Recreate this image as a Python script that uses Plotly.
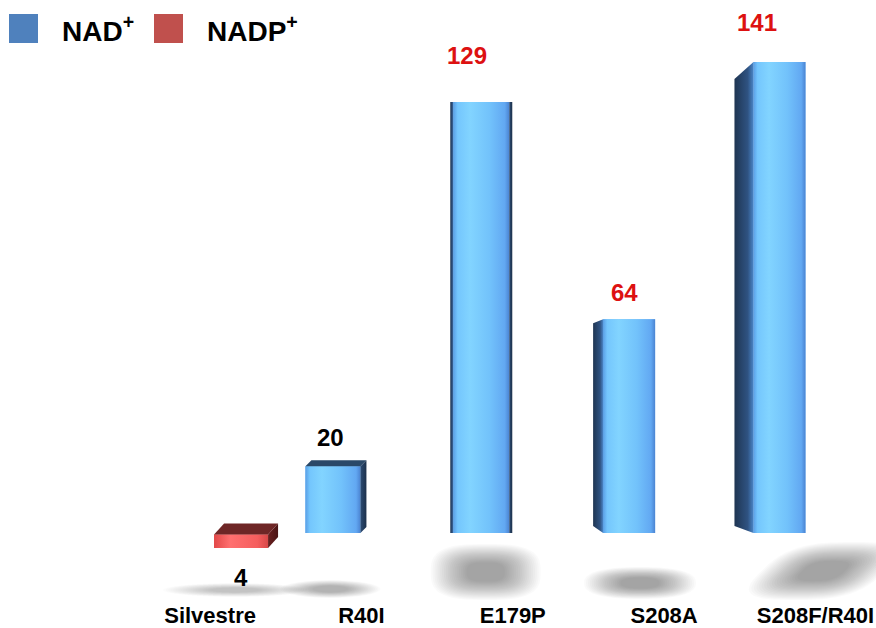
import numpy as np
import plotly.graph_objects as go

# ---- data -------------------------------------------------------------
categories = ["Silvestre", "R40I", "E179P", "S208A", "S208F/R40I"]
activity = [4, 20, 129, 64, 141]
cofactor = ["NADP+", "NAD+", "NAD+", "NAD+", "NAD+"]
label_colors = ["#000000", "#000000", "#dd1111", "#dd1111", "#dd1111"]

# ---- canvas / axes ----------------------------------------------------
W, H = 876, 628
M_B = 28
X_RANGE = [-1.388, 4.4]
Y_RANGE = [-20.06, 159.53]
PX_X = W / (X_RANGE[1] - X_RANGE[0])          # pixels per category unit
PX_Y = (H - M_B) / (Y_RANGE[1] - Y_RANGE[0])  # pixels per activity unit
FONT = "Liberation Sans, Arial"


def ux(px):
    return px / PX_X


def uy(px):
    return px / PX_Y


# ---- per-bar 3D styling (pixels) --------------------------------------
front_off = [4, -56, -59.5, -61, -62]
front_w = [54, 55, 56, 52, 52]
base_drop = [15, 0, 0, 0, 0]
top_depth = [11, 6, 0, 0, 0]
top_shift = [10, 6, 0, 0, 0]
right_side = [10, 6, 3, 0, 0]
left_side = [0, 0, 3, 10, 19]
left_top_drop = [0, 0, 0, 4, 17]
left_bot_rise = [0, 0, 0, 7, 7]
label_dx = [0, -2, -14, -5, -22]
label_dy = [-30, 29, 47, 27, 39]

PALETTE = {
    "NAD+": dict(
        legend="#4f81bd",
        bar="#6cbaf8",
        front=[[0, "#5a9fe6"], [0.08, "#74c6fd"], [0.3, "#82d4ff"],
               [0.65, "#72c2fb"], [0.92, "#62a8f2"], [1, "#4b84d2"]],
        side_l=[[0, "#1f3552"], [0.7, "#2f5382"], [1, "#4a86c8"]],
        side_r=[[0, "#2b4b74"], [1, "#1c304a"]],
        top="#2a4868",
    ),
    "NADP+": dict(
        legend="#c0504d",
        bar="#f86060",
        front=[[0, "#e24848"], [0.3, "#ff7070"], [0.8, "#f55e5e"],
               [1, "#d84848"]],
        side_l=[[0, "#5c1c1c"], [1, "#8a2a2a"]],
        side_r=[[0, "#6a2020"], [1, "#4a1414"]],
        top="#6e2626",
    ),
}

fig = go.Figure()

# ---- soft floor shadows -----------------------------------------------
# (category, x offset px, centre y px, rx, ry, squareness, shear, alpha/layer)
shadows = [
    (0, 25, 590, 72, 7, 2.0, 0.0, 0.011),
    (1, -31, 589, 50, 9, 2.0, 0.0, 0.016),
    (2, -27, 572, 55, 28, 3.0, 0.0, 0.019),
    (3, -24, 583, 56, 16, 2.5, 0.0, 0.019),
    (4, 8, 571, 62, 29, 3.0, 1.0, 0.019),
]
shapes = []
t = np.linspace(0, 2 * np.pi, 90)
for cat, off, cy, rx, ry, n, shear, a in shadows:
    cx = 210 + cat * PX_X + off
    c, s_ = np.cos(t), np.sin(t)
    ex = np.sign(c) * np.abs(c) ** (2 / n)
    ey = np.sign(s_) * np.abs(s_) ** (2 / n)
    for s in np.linspace(1.0, 0.35, 20):
        py = cy + s * ry * ey
        px = cx + s * rx * ex - shear * (py - cy)
        xs = X_RANGE[0] + px / PX_X
        ys = Y_RANGE[1] - py / PX_Y
        path = "M " + " L ".join(f"{x:.4f},{y:.3f}" for x, y in zip(xs, ys)) + " Z"
        shapes.append(dict(type="path", path=path, xref="x", yref="y",
                           fillcolor=f"rgba(0,0,0,{a})", line_width=0,
                           layer="below"))

# ---- bars (front faces) -----------------------------------------------
for cof in ["NAD+", "NADP+"]:
    idx = [i for i, c in enumerate(cofactor) if c == cof]
    fig.add_trace(go.Bar(
        x=idx,
        y=[activity[i] for i in idx],
        base=[-uy(base_drop[i]) for i in idx],
        width=[ux(front_w[i]) for i in idx],
        offset=[ux(front_off[i]) for i in idx],
        marker=dict(color=PALETTE[cof]["bar"], line_width=0),
        name=cof,
        showlegend=False,
        hovertemplate="%{y}<extra>" + cof + "</extra>",
    ))


def poly(xs, ys, fill=None, scale=None):
    kw = dict(x=list(xs) + [xs[0]], y=list(ys) + [ys[0]], mode="lines",
              line=dict(width=0), fill="toself", hoverinfo="skip",
              showlegend=False)
    if scale is not None:
        kw["fillgradient"] = dict(type="horizontal", colorscale=scale)
    else:
        kw["fillcolor"] = fill
    fig.add_trace(go.Scatter(**kw))


# ---- shading faces built from the same values -------------------------
for i, v in enumerate(activity):
    pal = PALETTE[cofactor[i]]
    xl = i + ux(front_off[i])
    xr = xl + ux(front_w[i])
    yb = -uy(base_drop[i])
    yt = yb + v
    # front face gradient
    poly([xl, xr, xr, xl], [yb, yb, yt, yt], scale=pal["front"])
    # left side face
    if left_side[i]:
        xf = xl - ux(left_side[i])
        poly([xf, xl, xl, xf],
             [yb + uy(left_bot_rise[i]), yb, yt, yt - uy(left_top_drop[i])],
             scale=pal["side_l"])
    # right side face
    if right_side[i]:
        xs2 = xr + ux(right_side[i])
        poly([xr, xs2, xs2, xr],
             [yb, yb + uy(top_depth[i]), yt + uy(top_depth[i]), yt],
             scale=pal["side_r"])
    # top face
    if top_depth[i]:
        sh = ux(top_shift[i])
        poly([xl, xr, xr + sh, xl + sh],
             [yt, yt, yt + uy(top_depth[i]), yt + uy(top_depth[i])],
             fill=pal["top"])

# ---- value labels ------------------------------------------------------
annotations = []
for i, v in enumerate(activity):
    xc = i + ux(front_off[i] + front_w[i] / 2 + label_dx[i])
    yref_val = -uy(base_drop[i]) + (v if label_dy[i] > 0 else 0)
    annotations.append(dict(
        x=xc, y=yref_val, xref="x", yref="y", text=f"<b>{v}</b>",
        showarrow=False, yshift=label_dy[i],
        font=dict(family=FONT, size=24, color=label_colors[i]),
    ))

# ---- legend ------------------------------------------------------------
legend_items = [("NAD+", "NAD", 9, 60), ("NADP+", "NADP", 154, 205)]
for key, txt, sx, tx in legend_items:
    shapes.append(dict(type="rect", xref="paper", yref="paper",
                       x0=sx / W, x1=(sx + 29) / W,
                       y0=1 - 43 / (H - M_B), y1=1 - 14 / (H - M_B),
                       fillcolor=PALETTE[key]["legend"], line_width=0))
    annotations.append(dict(
        x=tx / W, y=1 - 29 / (H - M_B), xref="paper", yref="paper",
        xanchor="left", yanchor="middle", showarrow=False,
        text=f"<b>{txt}<sup>+</sup></b>",
        font=dict(family=FONT, size=28, color="#000000"),
    ))

fig.update_layout(
    width=W, height=H,
    margin=dict(l=0, r=0, t=0, b=M_B),
    paper_bgcolor="white", plot_bgcolor="white",
    barmode="overlay",
    shapes=shapes,
    annotations=annotations,
    xaxis=dict(range=X_RANGE, tickvals=list(range(len(categories))),
               ticktext=categories, showgrid=False, zeroline=False,
               showline=False, ticks="", ticklen=0,
               ticklabeloverflow="allow",
               tickfont=dict(family=FONT, size=22, color="#000000",
                             weight="bold")),
    yaxis=dict(range=Y_RANGE, visible=False),
    showlegend=False,
)

fig.write_html("out.html")
